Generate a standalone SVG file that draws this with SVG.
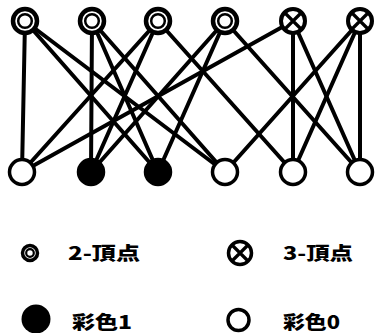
<svg xmlns="http://www.w3.org/2000/svg" width="375" height="333" viewBox="0 0 375 333">
<style>
.e{stroke:#000;stroke-width:4;fill:none;stroke-linecap:round}
.ring{fill:#fff;stroke:#000;stroke-width:4.5}
.inner{fill:none;stroke:#000;stroke-width:2.5}
.cross{fill:#fff;stroke:#000;stroke-width:4}
.x{stroke:#000;stroke-width:3.2}
.c0{fill:#fff;stroke:#000;stroke-width:3.5}
.c1{fill:#000;stroke:#000;stroke-width:3.5}
.t{font-family:"Noto Sans CJK JP","Noto Sans",sans-serif;font-weight:900;font-size:18px;fill:#000}
</style>
<rect width="375" height="333" fill="#fff"/>
<g id="edges">
<line class="e" x1="25" y1="21" x2="22" y2="172"/>
<line class="e" x1="25" y1="21" x2="158" y2="172"/>
<line class="e" x1="25" y1="21" x2="225" y2="172"/>
<line class="e" x1="92" y1="21" x2="91" y2="172"/>
<line class="e" x1="92" y1="21" x2="158" y2="172"/>
<line class="e" x1="92" y1="21" x2="225" y2="172"/>
<line class="e" x1="158" y1="21" x2="22" y2="172"/>
<line class="e" x1="158" y1="21" x2="91" y2="172"/>
<line class="e" x1="158" y1="21" x2="293" y2="172"/>
<line class="e" x1="225" y1="21" x2="91" y2="172"/>
<line class="e" x1="225" y1="21" x2="158" y2="172"/>
<line class="e" x1="225" y1="21" x2="360" y2="172"/>
<line class="e" x1="293" y1="21" x2="22" y2="172"/>
<line class="e" x1="293" y1="21" x2="293" y2="172"/>
<line class="e" x1="293" y1="21" x2="360" y2="172"/>
<line class="e" x1="360" y1="21" x2="225" y2="172"/>
<line class="e" x1="360" y1="21" x2="293" y2="172"/>
<line class="e" x1="360" y1="21" x2="360" y2="172"/>
</g>
<g id="t1"><circle class="ring" cx="25" cy="21" r="12"/><circle class="inner" cx="25" cy="21" r="6.8"/></g>
<g id="t2"><circle class="ring" cx="92" cy="21" r="12"/><circle class="inner" cx="92" cy="21" r="6.8"/></g>
<g id="t3"><circle class="ring" cx="158" cy="21" r="12"/><circle class="inner" cx="158" cy="21" r="6.8"/></g>
<g id="t4"><circle class="ring" cx="225" cy="21" r="12"/><circle class="inner" cx="225" cy="21" r="6.8"/></g>
<g id="t5"><circle class="cross" cx="293" cy="21" r="12"/><path class="x" d="M284.5 12.5L301.5 29.5M301.5 12.5L284.5 29.5"/></g>
<g id="t6"><circle class="cross" cx="360" cy="21" r="12"/><path class="x" d="M351.5 12.5L368.5 29.5M368.5 12.5L351.5 29.5"/></g>
<g id="b1"><circle class="c0" cx="22" cy="172" r="12.5"/></g>
<g id="b2"><circle class="c1" cx="91" cy="172" r="12.5"/></g>
<g id="b3"><circle class="c1" cx="158" cy="172" r="12.5"/></g>
<g id="b4"><circle class="c0" cx="225" cy="172" r="12.5"/></g>
<g id="b5"><circle class="c0" cx="293" cy="172" r="12.5"/></g>
<g id="b6"><circle class="c0" cx="360" cy="172" r="12.5"/></g>
<g id="legend">
<g id="leg-2v"><circle fill="#fff" stroke="#000" stroke-width="3.5" cx="30" cy="253" r="7.5"/><circle fill="none" stroke="#000" stroke-width="2.2" cx="30" cy="253" r="3.8"/><text class="t" x="68" y="259.5" textLength="72" lengthAdjust="spacingAndGlyphs">2-頂点</text></g>
<g id="leg-3v"><circle fill="#fff" stroke="#000" stroke-width="3.5" cx="240" cy="253" r="11.5"/><path class="x" d="M232 245L248 261M248 245L232 261"/><text class="t" x="283" y="259.5" textLength="70" lengthAdjust="spacingAndGlyphs">3-頂点</text></g>
<g id="leg-c1"><circle fill="#000" cx="36" cy="319" r="14.5"/><text class="t" x="72" y="328.5" textLength="60" lengthAdjust="spacingAndGlyphs">彩色1</text></g>
<g id="leg-c0"><circle fill="#fff" stroke="#000" stroke-width="3.5" cx="238.5" cy="320" r="10.5"/><text class="t" x="283" y="328.5" textLength="57" lengthAdjust="spacingAndGlyphs">彩色0</text></g>
</g>
</svg>
